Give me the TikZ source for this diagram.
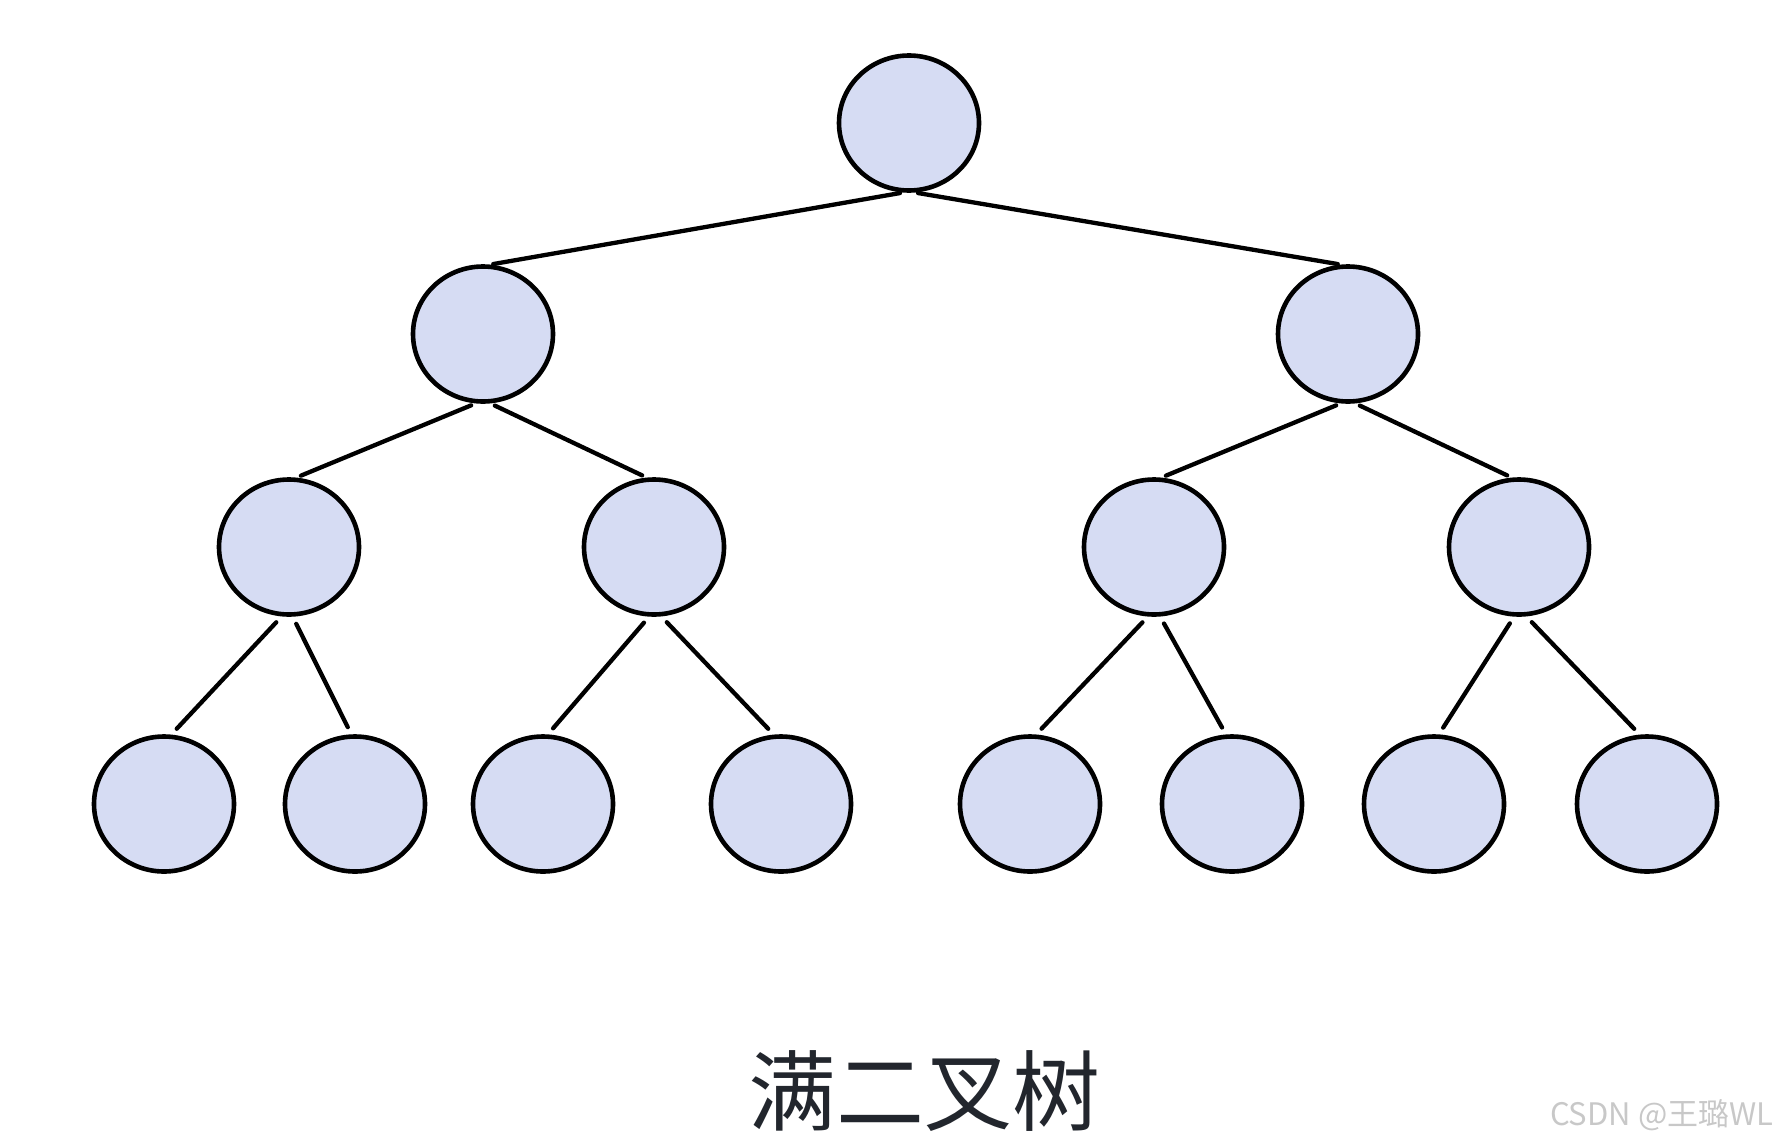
\documentclass[tikz,border=0pt]{standalone}
\usepackage{fontspec}
\newfontfamily\cjk{Noto Sans CJK SC}
\definecolor{nodefill}{RGB}{214,220,243}
\definecolor{titleink}{RGB}{34,38,45}
\definecolor{markgray}{RGB}{200,200,200}
\usetikzlibrary{shapes.geometric}
\tikzset{
  treenode/.style={ellipse,draw=black,line width=4.6pt,fill=nodefill,
                   minimum width=140pt,minimum height=135pt,inner sep=0pt},
  edge/.style={line width=4.3pt,line cap=round,shorten <=5pt,shorten >=5pt},
  leafedge/.style={edge,shorten <=8pt,shorten >=8pt},
  title/.style={font=\cjk\fontsize{88}{96}\selectfont,text=titleink},
  watermark/.style={font=\cjk\fontsize{31}{34}\selectfont,text=markgray},
}
\begin{document}
\begin{tikzpicture}[x=1pt,y=-1pt]
  \useasboundingbox (0,0) rectangle (1790,1146);
  % levels
  \node[treenode] (root) at (909,123) {};
  \node[treenode] (a) at (483,334) {};
  \node[treenode] (b) at (1348,334) {};
  \node[treenode] (aa) at (289,547) {};
  \node[treenode] (ab) at (654,547) {};
  \node[treenode] (ba) at (1154,547) {};
  \node[treenode] (bb) at (1519,547) {};
  \node[treenode] (aaa) at (164,804) {};
  \node[treenode] (aab) at (355,804) {};
  \node[treenode] (aba) at (543,804) {};
  \node[treenode] (abb) at (781,804) {};
  \node[treenode] (baa) at (1030,804) {};
  \node[treenode] (bab) at (1232,804) {};
  \node[treenode] (bba) at (1434,804) {};
  \node[treenode] (bbb) at (1647,804) {};
  % edges
  \draw[edge,shorten <=3pt,shorten >=3pt] (root.265) -- (a.84);
  \draw[edge,shorten <=3pt,shorten >=3pt] (root.275) -- (b.96);
  \draw[edge] (a.264) -- (aa.84);
  \draw[edge] (a.276) -- (ab.96);
  \draw[edge] (b.264) -- (ba.84);
  \draw[edge] (b.276) -- (bb.96);
  \draw[leafedge] (aa.264) -- (aaa.84);
  \draw[leafedge] (aa.273) -- (aab.93);
  \draw[leafedge] (ab.266) -- (aba.86);
  \draw[leafedge] (ab.276) -- (abb.96);
  \draw[leafedge] (ba.265) -- (baa.85);
  \draw[leafedge] (ba.275) -- (bab.95);
  \draw[leafedge] (bb.266) -- (bba.86);
  \draw[leafedge] (bb.276) -- (bbb.96);
  % captions
  \node[title] (cap) at (924,1091) {满二叉树};
  \node[watermark,anchor=east] (wm) at (1777,1115) {CSDN @王璐WL};
\end{tikzpicture}
\end{document}
